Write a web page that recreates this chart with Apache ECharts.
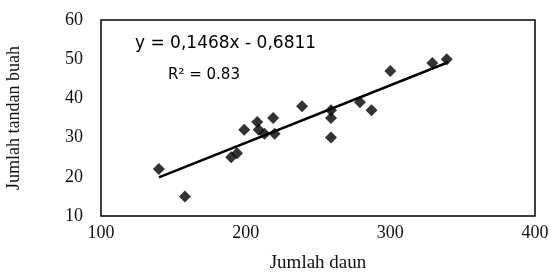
<!DOCTYPE html>
<html lang="en">
<head>
    <meta charset="UTF-8">
    <title>Jumlah tandan buah vs Jumlah daun</title>
    <script src="https://cdn.jsdelivr.net/npm/echarts@6/dist/echarts.min.js"></script>
    <style>
        html, body { margin: 0; padding: 0; background: #fff; }
    </style>
</head>
<body>
    <div id="main" style="width: 551px; height: 273px;"></div>
    <script>
        // observed points: leaf count vs bunch count
        const daun = [140, 158, 190, 194, 199, 208, 209, 213, 219, 220, 239, 259, 259, 259, 279, 287, 300, 329, 339];
        const tandan = [22, 15, 25, 26, 32, 34, 32, 31, 35, 31, 38, 37, 35, 30, 39, 37, 47, 49, 50];
        // linear trend line end points
        const trendX = [140, 340];
        const trendY = [19.87, 49.23];
        const xTicks = [100, 200, 300, 400];
        const yTicks = [10, 20, 30, 40, 50, 60];

        const points = daun.map((v, i) => [v, tandan[i]]);
        const trend = trendX.map((v, i) => [v, trendY[i]]);

        const serif = '"Liberation Serif", "DejaVu Serif", serif';
        const sans = '"DejaVu Sans", Arial, sans-serif';

        const chart = echarts.init(document.getElementById("main"));
        chart.setOption({
            animation: false,
            grid: {
                left: 101, right: 16, top: 20, bottom: 57,
                show: true, borderColor: "#000", borderWidth: 1.5,
                containLabel: false,
                outerBoundsMode: "none"
            },
            xAxis: {
                type: "value",
                min: xTicks[0], max: xTicks[xTicks.length - 1], interval: 100,
                axisLine: { show: false },
                axisTick: { show: false },
                splitLine: { show: false },
                axisLabel: { color: "#111", fontFamily: serif, fontSize: 18, margin: 8 },
                name: "Jumlah daun",
                nameLocation: "middle",
                nameGap: 38,
                nameTextStyle: { color: "#111", fontFamily: serif, fontSize: 19 }
            },
            yAxis: {
                type: "value",
                min: yTicks[0], max: yTicks[yTicks.length - 1], interval: 10,
                axisLine: { show: false },
                axisTick: { show: false },
                splitLine: { show: false },
                axisLabel: { color: "#111", fontFamily: serif, fontSize: 18, margin: 18 },
                name: "Jumlah tandan buah",
                nameLocation: "middle",
                nameGap: 78,
                nameTextStyle: { color: "#111", fontFamily: serif, fontSize: 18 }
            },
            graphic: [
                {
                    type: "text", left: 135, top: 35,
                    style: { text: "y = 0,1468x - 0,6811", fill: "#000", font: "17px " + sans }
                },
                {
                    type: "text", left: 168, top: 68,
                    style: { text: "R² = 0.83", fill: "#000", font: "15px " + sans }
                }
            ],
            series: [
                {
                    type: "line",
                    data: trend,
                    symbol: "none",
                    lineStyle: { color: "#000", width: 2.5 },
                    z: 2
                },
                {
                    type: "scatter",
                    data: points,
                    symbol: "diamond",
                    symbolSize: 12,
                    itemStyle: { color: "#000" },
                    z: 3
                }
            ]
        });
    </script>
</body>
</html>
